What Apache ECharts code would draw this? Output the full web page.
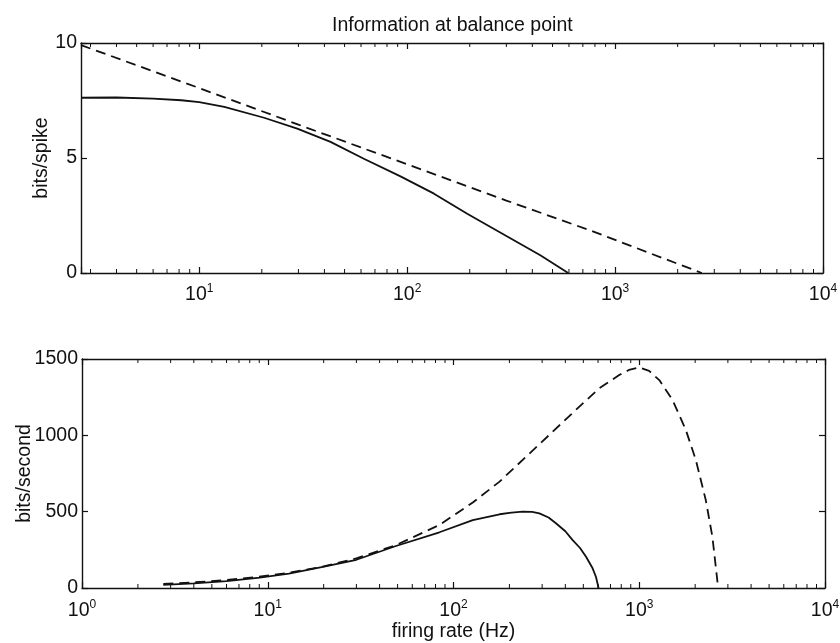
<!DOCTYPE html>
<html>
<head>
<meta charset="utf-8">
<script src="https://cdn.jsdelivr.net/npm/echarts@6/dist/echarts.min.js"></script>
<style>
html,body{margin:0;padding:0;background:#fff;}
#chart{width:840px;height:643px;}
</style>
</head>
<body>
<div id="chart"></div>
<script>
// ---- data ----
// Top panel: bits/spike
const topSolidFreq = [2.7, 4, 6, 8.2, 10, 13.2, 20.5, 29.6, 42.8, 61.9, 92.9, 134.6, 194.5, 303, 437, 520, 595];
const topSolidBits = [7.62, 7.63, 7.58, 7.51, 7.43, 7.22, 6.75, 6.28, 5.70, 4.97, 4.20, 3.45, 2.58, 1.59, 0.77, 0.34, 0];
const topDashFreq = [2.7, 10, 30, 93, 300, 787, 2612];
const topDashBits = [9.91, 8.04, 6.45, 4.83, 3.15, 1.80, 0];
// Bottom panel: bits/second
const botSolidFreq = [2.74, 4, 6, 9.06, 13, 19.8, 30, 49, 84, 127, 177, 205, 236, 265, 290, 325, 356, 400, 438, 480, 517, 561, 585, 604];
const botSolidRate = [20, 30, 45, 68, 94, 138, 185, 275, 365, 445, 483, 494, 500, 499, 489, 462, 424, 372, 314, 262, 205, 129, 72, 0];
const botDashFreq = [2.74, 4, 6, 9, 13, 20, 30, 49, 84, 127, 177, 246, 342, 476, 609, 780, 880, 1000, 1130, 1282, 1511, 1782, 2017, 2281, 2476, 2660];
const botDashRate = [27, 37, 52, 74, 100, 141, 194, 281, 413, 560, 697, 860, 1024, 1188, 1308, 1395, 1428, 1445, 1422, 1362, 1231, 1035, 838, 576, 336, 0];
// Axis ticks
const topYTicks = [0, 5, 10];
const botYTicks = [0, 500, 1000, 1500];
const topMinorTicks = [3,4,5,6,7,8,9, 20,30,40,50,60,70,80,90, 200,300,400,500,600,700,800,900, 2000,3000,4000,5000,6000,7000,8000,9000];
const botMinorTicks = [2,3,4,5,6,7,8,9, 20,30,40,50,60,70,80,90, 200,300,400,500,600,700,800,900, 2000,3000,4000,5000,6000,7000,8000,9000];
const titleText = 'Information at balance point';
const topYName = 'bits/spike';
const botYName = 'bits/second';
const botXName = 'firing rate (Hz)';

// ---- chart ----
const FONT = '"Liberation Sans", Arial, Helvetica, sans-serif';
const INK = '#111';
const FS = 19.5;

function pairs(xs, ys) { return xs.map((x, i) => [x, ys[i]]); }

function pow10Label(v) {
  const l = Math.log10(v);
  const e = Math.round(l);
  if (Math.abs(l - e) > 1e-6) return '';
  return '{b|10}{s|' + e + '}';
}
const richLabel = {
  b: { fontSize: FS, fontFamily: FONT, color: INK, lineHeight: 24 },
  s: { fontSize: 12, fontFamily: FONT, color: INK, verticalAlign: 'top', lineHeight: 24 }
};

function xAxisDef(gridIndex, min, position, showLabels, margin, extra) {
  return Object.assign({
    type: 'log', logBase: 10, gridIndex, min, max: 10000, position,
    axisLine: { show: true, onZero: false, lineStyle: { color: INK, width: 1.4 } },
    axisTick: { show: true, inside: true, length: 6, lineStyle: { color: INK, width: 1.2 } },
    axisLabel: showLabels ? {
      show: true, margin: margin, formatter: pow10Label, rich: richLabel,
      showMinLabel: true, showMaxLabel: true, hideOverlap: false
    } : { show: false },
    splitLine: { show: false },
    minorTick: { show: false }
  }, extra || {});
}
function yAxisDef(gridIndex, max, interval, position, showLabels, extra) {
  return Object.assign({
    type: 'value', gridIndex, min: 0, max, interval, position,
    axisLine: { show: true, onZero: false, lineStyle: { color: INK, width: 1.4 } },
    axisTick: { show: true, inside: true, length: 6, lineStyle: { color: INK, width: 1.2 } },
    axisLabel: showLabels ? {
      show: true, margin: 4, fontSize: FS, fontFamily: FONT, color: INK,
      formatter: v => String(v)
    } : { show: false },
    splitLine: { show: false }
  }, extra || {});
}

function minorSeries(xi, yi, values, yMax) {
  return {
    type: 'custom', xAxisIndex: xi, yAxisIndex: yi, silent: true, animation: false, z: 5,
    data: values.map(v => [v, 0]),
    renderItem: function (params, api) {
      const f = api.value(0);
      const pb = api.coord([f, 0]);
      const pt = api.coord([f, yMax]);
      const st = { stroke: INK, lineWidth: 1 };
      return {
        type: 'group', children: [
          { type: 'line', shape: { x1: pb[0], y1: pb[1], x2: pb[0], y2: pb[1] - 4 }, style: st },
          { type: 'line', shape: { x1: pt[0], y1: pt[1], x2: pt[0], y2: pt[1] + 4 }, style: st }
        ]
      };
    }
  };
}

function lineSeries(xi, yi, data, dashed) {
  return {
    type: 'line', xAxisIndex: xi, yAxisIndex: yi, data, showSymbol: false, symbol: 'none',
    smooth: false, animation: false, clip: true, z: 3,
    lineStyle: { color: INK, width: 1.8, type: dashed ? [10, 6] : 'solid' }
  };
}

const nameStyle = { fontSize: FS, fontFamily: FONT, color: INK };

const chart = echarts.init(document.getElementById('chart'), null, { renderer: 'canvas' });
chart.setOption({
  backgroundColor: '#fff',
  animation: false,
  title: {
    text: titleText, left: 327, top: 11,
    textStyle: { fontSize: FS, fontWeight: 'normal', fontFamily: FONT, color: INK }
  },
  grid: [
    { left: 81, right: 17, top: 43, height: 230, containLabel: false, outerBoundsMode: 'none' },
    { left: 82, right: 15, top: 359, height: 229, containLabel: false, outerBoundsMode: 'none' }
  ],
  xAxis: [
    xAxisDef(0, 2.7, 'bottom', true, 10),
    xAxisDef(0, 2.7, 'top', false, 10),
    xAxisDef(1, 1, 'bottom', true, 11, {
      name: botXName, nameLocation: 'middle', nameGap: 34, nameMoveOverlap: false, nameTextStyle: nameStyle
    }),
    xAxisDef(1, 1, 'top', false, 10)
  ],
  yAxis: [
    yAxisDef(0, 10, 5, 'left', true, {
      name: topYName, nameLocation: 'middle', nameGap: 29, nameRotate: 90, nameMoveOverlap: false, nameTextStyle: nameStyle
    }),
    yAxisDef(0, 10, 5, 'right', false),
    yAxisDef(1, 1500, 500, 'left', true, {
      name: botYName, nameLocation: 'middle', nameGap: 47, nameRotate: 90, nameMoveOverlap: false, nameTextStyle: nameStyle
    }),
    yAxisDef(1, 1500, 500, 'right', false)
  ],
  series: [
    lineSeries(0, 0, pairs(topSolidFreq, topSolidBits), false),
    lineSeries(0, 0, pairs(topDashFreq, topDashBits), true),
    lineSeries(2, 2, pairs(botSolidFreq, botSolidRate), false),
    lineSeries(2, 2, pairs(botDashFreq, botDashRate), true),
    minorSeries(0, 0, topMinorTicks, topYTicks[topYTicks.length - 1]),
    minorSeries(2, 2, botMinorTicks, botYTicks[botYTicks.length - 1])
  ]
});
</script>
</body>
</html>
